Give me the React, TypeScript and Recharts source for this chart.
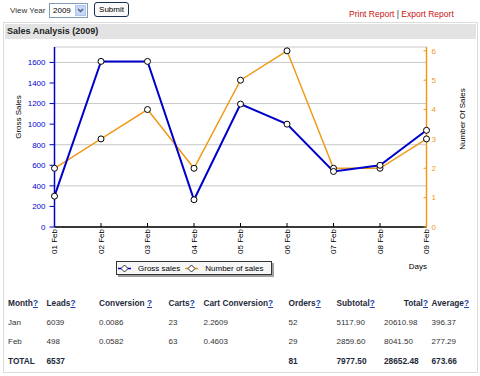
import React from "react"
import { CartesianGrid, Label, Line, LineChart, XAxis, YAxis } from "recharts"

const days = ["01 Feb", "02 Feb", "03 Feb", "04 Feb", "05 Feb", "06 Feb", "07 Feb", "08 Feb", "09 Feb"]
const grossSales = [300, 1610, 1610, 265, 1195, 1000, 540, 600, 940]
const numberOfSales = [2, 3, 4, 2, 5, 6, 2, 2, 3]
const grossTicks = [0, 200, 400, 600, 800, 1000, 1200, 1400, 1600]
const salesTicks = [0, 1, 2, 3, 4, 5, 6]

const tableHeaders = ["Month", "Leads", "Conversion ", "Carts", "Cart Conversion", "Orders", "Subtotal", "Total", "Average"]
const janRow = ["Jan", "6039", "0.0086", "23", "2.2609", "52", "5117.90", "20610.98", "396.37"]
const febRow = ["Feb", "498", "0.0582", "63", "0.4603", "29", "2859.60", "8041.50", "277.29"]
const totalRow = ["TOTAL", "6537", "", "", "", "81", "7977.50", "28652.48", "673.66"]

const chartData = days.map((day, i) => ({ day, gross: grossSales[i], count: numberOfSales[i] }))

const BLUE = "#0000cc"
const ORANGE = "#f09a1a"
const FONT = "'Liberation Sans', Arial, sans-serif"

// left x of each table column
const colX = [8, 46.5, 99, 168.5, 203.5, 288.5, 336.5, 384, 431.5]
const rowY = [303, 322.5, 342, 360.5]

function DayTick({ x, y, payload }: any) {
  return (
    <text
      x={x}
      y={y + 2}
      transform={`rotate(-90 ${x} ${y + 2})`}
      textAnchor="end"
      dy="0.35em"
      fontSize={8}
      fontFamily={FONT}
      fill="#000"
    >
      {payload.value}
    </text>
  )
}

function VLabel({ x, y, text }: { x: number; y: number; text: string }) {
  return (
    <text
      x={x}
      y={y}
      transform={`rotate(-90 ${x} ${y})`}
      textAnchor="middle"
      dy="0.35em"
      fontSize={8}
      fontFamily={FONT}
      fill="#000"
    >
      {text}
    </text>
  )
}

function LegendMark({ color }: { color: string }) {
  return (
    <svg width={13} height={9} style={{ display: "block" }}>
      <line x1={0} y1={4.5} x2={13} y2={4.5} stroke={color} strokeWidth={1.5} />
      <polygon points="6.5,1 10,4.5 6.5,8 3,4.5" fill="#fff" stroke="#000" strokeWidth={0.8} />
    </svg>
  )
}

function Cell({ x, y, text, bold, help, alignRight }: any) {
  return (
    <div
      style={{
        position: "absolute",
        left: alignRight ? undefined : x,
        right: alignRight ? 480 - alignRight : undefined,
        top: y - 6,
        height: 12,
        lineHeight: "12px",
        fontSize: bold ? 8.3 : 8,
        fontWeight: bold ? "bold" : "normal",
        color: bold ? "#1e2a3a" : "#333",
        whiteSpace: "nowrap",
      }}
    >
      {text}
      {help && <span style={{ color: "#1f44a8", textDecoration: "underline" }}>?</span>}
    </div>
  )
}

export default function App() {
  return (
    <div
      style={{
        position: "absolute",
        left: 0,
        top: 0,
        width: 480,
        height: 376,
        background: "#fff",
        fontFamily: FONT,
        overflow: "hidden",
      }}
    >
      {/* top controls */}
      <div style={{ position: "absolute", left: 10, top: 5, fontSize: 8, color: "#333", lineHeight: "12px" }}>View Year</div>
      <div
        style={{
          position: "absolute",
          left: 49,
          top: 3,
          width: 37,
          height: 13,
          border: "1px solid #7f9db9",
          fontSize: 8,
          lineHeight: "13px",
          color: "#000",
        }}
      >
        <span style={{ marginLeft: 3 }}>2009</span>
        <div
          style={{
            position: "absolute",
            right: 1,
            top: 1,
            width: 11,
            height: 11,
            background: "#c7d8f7",
            border: "1px solid #b0c4ea",
            boxSizing: "border-box",
          }}
        >
          <svg width={9} height={9} style={{ display: "block" }}>
            <polyline points="2,3 4.5,5.5 7,3" fill="none" stroke="#4d6185" strokeWidth={1.5} />
          </svg>
        </div>
      </div>
      <div
        style={{
          position: "absolute",
          left: 94,
          top: 2,
          width: 33,
          height: 13,
          border: "1px solid #1c3050",
          borderRadius: 3,
          background: "#fafafa",
          fontSize: 8,
          lineHeight: "13px",
          textAlign: "center",
          color: "#000",
        }}
      >
        Submit
      </div>
      <div style={{ position: "absolute", left: 349, top: 8, fontSize: 8.5, lineHeight: "12px", color: "#cc1111", whiteSpace: "nowrap" }}>
        Print Report <span style={{ color: "#333" }}>|</span> Export Report
      </div>

      {/* panel */}
      <div style={{ position: "absolute", left: 3, top: 22, width: 473, height: 349, border: "1px solid #dcdcdc" }} />
      <div
        style={{
          position: "absolute",
          left: 5,
          top: 24,
          width: 471,
          height: 15,
          background: "#e3e3e3",
          fontSize: 9,
          fontWeight: "bold",
          lineHeight: "15px",
          color: "#222",
          paddingLeft: 2,
          boxSizing: "border-box",
        }}
      >
        Sales Analysis (2009)
      </div>

      {/* chart */}
      <div style={{ position: "absolute", left: 0, top: 0 }}>
        <LineChart width={480} height={300} data={chartData} margin={{ top: 47, right: 13.5, bottom: 33, left: 14.5 }}>
          <CartesianGrid yAxisId="left" vertical={false} stroke="#c8c8c8" strokeWidth={1} />
          <XAxis
            dataKey="day"
            height={40}
            tick={<DayTick />}
            tickSize={-4}
            tickMargin={4}
            tickLine={{ stroke: "#000" }}
            axisLine={{ stroke: "#000", strokeWidth: 1.5 }}
            interval={0}
          >
            <Label
              content={() => (
                <text x={427} y={269} textAnchor="end" fontSize={8} fontFamily={FONT} fill="#000">
                  Days
                </text>
              )}
            />
          </XAxis>
          <YAxis
            yAxisId="left"
            width={40}
            domain={[0, 1750]}
            ticks={grossTicks}
            allowDataOverflow
            tickSize={5}
            tickMargin={4}
            tick={{ fontSize: 8, fill: BLUE, fontFamily: FONT }}
            tickLine={{ stroke: BLUE }}
            axisLine={{ stroke: BLUE, strokeWidth: 1.5 }}
          >
            <Label content={() => <VLabel x={18} y={117} text="Gross Sales" />} />
          </YAxis>
          <YAxis
            yAxisId="right"
            orientation="right"
            width={40}
            domain={[0, 6.13]}
            ticks={salesTicks}
            allowDataOverflow
            tickSize={-3}
            tickMargin={8}
            tick={{ fontSize: 8, fill: ORANGE, fontFamily: FONT }}
            tickLine={{ stroke: ORANGE }}
            axisLine={{ stroke: ORANGE, strokeWidth: 1.5 }}
          >
            <Label content={() => <VLabel x={462} y={119} text="Number Of Sales" />} />
          </YAxis>
          <Line
            yAxisId="right"
            dataKey="count"
            stroke={ORANGE}
            strokeWidth={1.5}
            dot={{ r: 3, fill: "#fff", stroke: "#000", strokeWidth: 1 }}
            activeDot={false}
            isAnimationActive={false}
          />
          <Line
            yAxisId="left"
            dataKey="gross"
            stroke={BLUE}
            strokeWidth={2}
            dot={{ r: 3, fill: "#fff", stroke: "#000", strokeWidth: 1 }}
            activeDot={false}
            isAnimationActive={false}
          />
        </LineChart>
      </div>

      {/* legend */}
      <div
        style={{
          position: "absolute",
          left: 116,
          top: 261,
          width: 154,
          height: 12,
          border: "1px solid #333",
          background: "#f6f6f6",
          boxShadow: "2px 2px 0 #a0a0a0",
          display: "flex",
          alignItems: "center",
          fontSize: 8,
          color: "#000",
          whiteSpace: "nowrap",
        }}
      >
        <div style={{ marginLeft: 1 }}>
          <LegendMark color={BLUE} />
        </div>
        <span style={{ marginLeft: 7 }}>Gross sales</span>
        <div style={{ marginLeft: 5 }}>
          <LegendMark color={ORANGE} />
        </div>
        <span style={{ marginLeft: 7 }}>Number of sales</span>
      </div>

      {/* table */}
      {tableHeaders.map((h, i) => (
        <Cell key={"h" + i} x={colX[i]} y={rowY[0]} text={h} bold help alignRight={i === 7 ? 428 : undefined} />
      ))}
      {janRow.map((v, i) => (
        <Cell key={"j" + i} x={colX[i]} y={rowY[1]} text={v} />
      ))}
      {febRow.map((v, i) => (
        <Cell key={"f" + i} x={colX[i]} y={rowY[2]} text={v} />
      ))}
      {totalRow.map((v, i) => (v ? <Cell key={"t" + i} x={colX[i]} y={rowY[3]} text={v} bold /> : null))}
    </div>
  )
}
